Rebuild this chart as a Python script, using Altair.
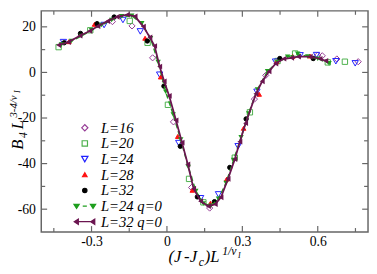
import altair as alt
import pandas as pd

# ---------------- data ----------------
SERIES = ["L=16", "L=20", "L=24", "L=28", "L=32", "L=24 q=0", "L=32 q=0"]

l16_x = [-0.217, -0.139, -0.057, 0.026, 0.098, 0.170, 0.348, 0.393, 0.600, 0.618, 0.676, 0.761]
l16_y = [22.3, 20.4, 6.4, -21.7, -50.5, -59.5, -11.7, -1.3, 7.6, 7.3, 5.9, 4.7]

l20_x = [-0.431, -0.305, -0.148, -0.077, 0.004, 0.088, 0.145, 0.270, 0.330, 0.440, 0.510, 0.640, 0.708]
l20_y = [11.1, 18.5, 22.6, 13.0, -14.2, -46.7, -57.0, -37.4, -17.5, 5.0, 8.3, 4.4, 4.7]

l24_x = [-0.412, -0.250, -0.175, -0.106, -0.029, 0.047, 0.134, 0.205, 0.283, 0.358, 0.432, 0.530, 0.595, 0.672, 0.749]
l24_y = [13.3, 20.8, 23.0, 18.0, -1.0, -31.0, -55.2, -53.5, -32.4, -8.5, 4.7, 7.5, 7.6, 4.9, 4.0]

l28_x = [-0.390, -0.288, -0.087, -0.025, 0.043, 0.101, 0.173, 0.238, 0.305, 0.367, 0.436, 0.500, 0.569]
l28_y = [13.5, 21.1, 15.0, -2.0, -28.1, -51.7, -57.4, -46.8, -24.5, -9.6, 4.7, 7.0, 7.2]

l32_x = [-0.409, -0.344, -0.278, -0.210, -0.078, -0.012, 0.053, 0.121, 0.189, 0.250, 0.315, 0.449, 0.582]
l32_y = [13.0, 17.1, 21.4, 24.3, 13.8, -6.0, -32.4, -54.6, -56.7, -41.7, -20.4, 6.1, 6.1]

q24_x = [-0.42, -0.38, -0.34, -0.30, -0.26, -0.22, -0.18, -0.14, -0.10, -0.065, -0.035, -0.005,
         0.025, 0.055, 0.085, 0.115, 0.145, 0.175, 0.205, 0.235, 0.265, 0.295, 0.325, 0.36,
         0.40, 0.44, 0.48, 0.52, 0.56, 0.60, 0.645]
q24_y = [12.2, 13.8, 16.0, 18.5, 20.8, 23.0, 24.6, 24.8, 21.5, 15.0, 4.5, -8.5,
         -18.5, -29.5, -41.5, -52.0, -57.5, -58.5, -55.5, -48.5, -38.5, -28.5, -18.0, -7.5,
         0.5, 4.5, 6.8, 8.2, 7.0, 6.0, 4.0]

q32_x = [-0.431, -0.392, -0.346, -0.307, -0.275, -0.236, -0.198, -0.158, -0.127, -0.094, -0.068,
         -0.049, -0.029, -0.011, 0.009, 0.036, 0.060, 0.083, 0.106, 0.134, 0.165, 0.192, 0.215,
         0.243, 0.270, 0.290, 0.313, 0.354, 0.379, 0.406, 0.433, 0.465, 0.496, 0.523, 0.570,
         0.609, 0.632]
q32_y = [12.0, 13.3, 16.1, 18.2, 20.3, 22.5, 24.4, 25.3, 24.6, 20.1, 15.4,
         11.6, 2.6, -3.9, -10.3, -21.0, -30.8, -40.3, -51.0, -56.5, -58.7, -57.8, -54.8,
         -46.7, -38.1, -30.4, -22.3, -9.4, -3.9, 0.4, 3.9, 6.0, 6.4, 6.9, 6.9,
         6.0, 5.1]

x_major = [-0.3, 0.0, 0.3, 0.6]
x_minor = [-0.45, -0.15, 0.15, 0.45, 0.75]
y_major = [-60, -40, -20, 0, 20]
y_minor = [-50, -30, -10, 10]

# ---------------- styles ----------------
COLORS = ["#953a95", "#4cb04c", "#2020ff", "#ff1010", "#000000", "#1e9e1e", "#6b1550"]
FILLS = ["transparent", "transparent", "transparent", "#ff1010", "#000000", "#1e9e1e", "#6b1550"]
PATH_G = ("M-3.3,0L-2.4,0M-0.7,0L0.7,0M2.4,0L3.3,0"
          "M-3.7,-0.6L-1.9,-0.6L-2.8,0.8ZM1.9,-0.6L3.7,-0.6L2.8,0.8Z")
PATH_M = "M-3.3,0L3.3,0M-3.6,0L-2.2,-0.9L-2.2,0.9ZM2.0,0L3.4,-0.9L3.4,0.9Z"
SHAPES = ["diamond", "square", "triangle-down", "triangle-up", "circle", PATH_G, PATH_M]
SIZES = [40, 30, 42, 22, 20, 36, 36]

W, H = 334, 226
FONT = "Liberation Serif"
FRAME = "#666666"

XS = alt.Scale(domain=[-0.5, 0.8], nice=False, zero=False)
YS = alt.Scale(domain=[-70, 27], nice=False, zero=False)
XAX = alt.Axis(values=x_major, ticks=False, domain=False, grid=False, title=None,
               labelFont=FONT, labelFontSize=14, labelColor="black", labelPadding=3,
               labelExpr="datum.value == 0 ? '0' : (datum.value < 0 ? '-' + format(-datum.value, '.1f') : format(datum.value, '.1f'))")
YAX = alt.Axis(values=y_major, ticks=False, domain=False, grid=False, title=None,
               labelFont=FONT, labelFontSize=14, labelColor="black", labelPadding=6,
               labelExpr="datum.value < 0 ? '-' + format(-datum.value, 'd') : format(datum.value, 'd')")

LEG = alt.Legend(title=None, orient="none", legendX=37, legendY=112,
                 labelFont=FONT, labelFontStyle="italic", labelFontSize=15, labelColor="black",
                 symbolStrokeWidth=1.2, rowPadding=0, padding=0, labelOffset=9,
                 symbolOpacity=1)

rows = []
for name, xs, ys in [("L=16", l16_x, l16_y), ("L=20", l20_x, l20_y), ("L=24", l24_x, l24_y),
                     ("L=28", l28_x, l28_y), ("L=32", l32_x, l32_y)]:
    for a, b in zip(xs, ys):
        rows.append({"series": name, "x": a, "y": b})
df = pd.DataFrame(rows)

scatter = alt.Chart(df).mark_point(filled=False, strokeWidth=1, opacity=1).encode(
    x=alt.X("x:Q", scale=XS, axis=XAX),
    y=alt.Y("y:Q", scale=YS, axis=YAX),
    shape=alt.Shape("series:N", scale=alt.Scale(domain=SERIES, range=SHAPES), legend=LEG),
    fill=alt.Fill("series:N", scale=alt.Scale(domain=SERIES, range=FILLS), legend=LEG),
    stroke=alt.Stroke("series:N", scale=alt.Scale(domain=SERIES, range=COLORS), legend=LEG),
    size=alt.Size("series:N", scale=alt.Scale(type="ordinal", domain=SERIES, range=SIZES), legend=LEG),
)

green = alt.Chart(pd.DataFrame({"x": q24_x, "y": q24_y})).mark_line(
    color=COLORS[5], strokeWidth=1.5, strokeDash=[5, 3],
    point=alt.OverlayMarkDef(shape="triangle-down", filled=True, size=30, color=COLORS[5], opacity=1),
).encode(x=alt.X("x:Q", scale=XS, axis=XAX), y=alt.Y("y:Q", scale=YS, axis=YAX))

maroon = alt.Chart(pd.DataFrame({"x": q32_x, "y": q32_y})).mark_line(
    color=COLORS[6], strokeWidth=1.8,
    point=alt.OverlayMarkDef(shape="triangle-left", filled=True, size=34, color=COLORS[6], opacity=1),
).encode(x=alt.X("x:Q", scale=XS, axis=XAX), y=alt.Y("y:Q", scale=YS, axis=YAX))


def xticks(vals, ln):
    d = pd.DataFrame({"v": vals})
    bot = alt.Chart(d).mark_rule(color=FRAME, strokeWidth=1.2).encode(
        x=alt.X("v:Q", scale=XS, axis=XAX), y=alt.value(H), y2=alt.value(H - ln))
    top = alt.Chart(d).mark_rule(color=FRAME, strokeWidth=1.2).encode(
        x=alt.X("v:Q", scale=XS, axis=XAX), y=alt.value(0), y2=alt.value(ln))
    return [bot, top]


def yticks(vals, ln):
    d = pd.DataFrame({"v": vals})
    lft = alt.Chart(d).mark_rule(color=FRAME, strokeWidth=1.2).encode(
        y=alt.Y("v:Q", scale=YS, axis=YAX), x=alt.value(0), x2=alt.value(ln))
    rgt = alt.Chart(d).mark_rule(color=FRAME, strokeWidth=1.2).encode(
        y=alt.Y("v:Q", scale=YS, axis=YAX), x=alt.value(W), x2=alt.value(W - ln))
    return [lft, rgt]


def piece(text, px, py, size, angle=0):
    return alt.Chart(pd.DataFrame({"t": [text]})).mark_text(
        font=FONT, fontStyle="italic", fontSize=size, align="left", baseline="alphabetic",
        angle=angle, color="black",
    ).encode(x=alt.value(px), y=alt.value(py), text="t:N")


# axis titles built from pieces (sub/superscripts)
x_title = [
    piece("(J", 130, 257, 17),
    piece("-J", 146, 257, 17),
    piece("c", 161, 261, 12),
    piece(")L", 167, 257, 17),
    piece("1/\u03bd", 185, 250, 12),
    piece("I", 201, 253, 8),
]
y_title = [
    piece("B", -19, 142, 17, 270),
    piece("4", -15, 130, 12, 270),
    piece("L", -19, 121, 17, 270),
    piece("3-4/\u03bd", -25, 109, 11, 270),
    piece("I", -22, 84, 8, 270),
]

layers = (xticks(x_major, 6) + xticks(x_minor, 4) + yticks(y_major, 6) + yticks(y_minor, 4)
          + [scatter, green, maroon] + x_title + y_title)

chart = alt.layer(*layers).properties(
    width=W, height=H, autosize="none",
    padding={"left": 34, "top": 0, "right": 1, "bottom": 40},
).configure_view(stroke=FRAME, strokeWidth=1.5)

chart.save("out.html", embed_options={"renderer": "svg", "actions": False})
